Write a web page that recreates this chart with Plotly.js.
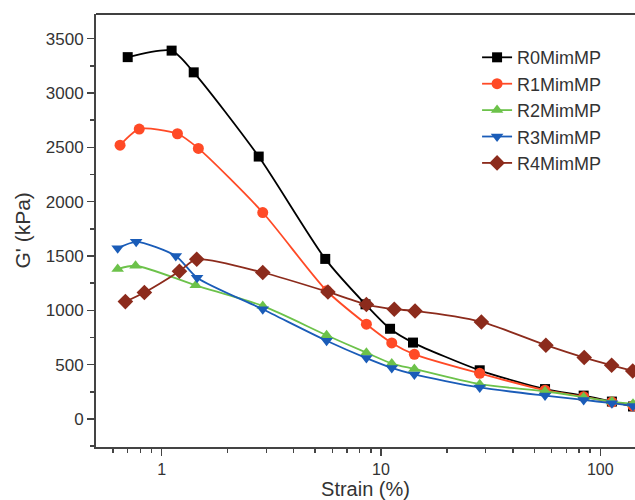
<!DOCTYPE html>
<html>
<head>
<meta charset="utf-8">
<script src="https://cdn.plot.ly/plotly-3.0.1.min.js"></script>
<style>html,body{margin:0;padding:0;background:#fff;}#chart{width:635px;height:500px;}</style>
</head>
<body>
<div id="chart"></div>
<script>
// Data
const seriesNames = ["R0MimMP", "R1MimMP", "R2MimMP", "R3MimMP", "R4MimMP"];

const strainR0 = [0.70, 1.11, 1.40, 2.77, 5.57, 8.5, 11.0, 14.0, 28.2, 56, 84, 113, 141];
const gR0      = [3330, 3390, 3190, 2415, 1473, 1055, 830, 703, 448, 275, 215, 160, 115];

const strainR1 = [0.646, 0.79, 1.18, 1.47, 2.89, 5.65, 8.58, 11.2, 14.2, 28.2, 56, 84, 113, 141];
const gR1      = [2520, 2668, 2625, 2490, 1900, 1180, 872, 700, 595, 420, 265, 205, 155, 120];

const strainR2 = [0.63, 0.76, 1.43, 2.89, 5.65, 8.58, 11.2, 14.2, 28.2, 56, 84, 113, 141];
const gR2      = [1380, 1410, 1230, 1040, 770, 610, 510, 460, 320, 255, 200, 160, 140];

const strainR3 = [0.63, 0.765, 1.16, 1.45, 2.89, 5.65, 8.58, 11.2, 14.2, 28.2, 56, 84, 113, 141];
const gR3      = [1570, 1630, 1500, 1300, 1010, 720, 560, 470, 410, 290, 215, 175, 145, 120];

const strainR4 = [0.683, 0.834, 1.205, 1.445, 2.89, 5.73, 8.58, 11.5, 14.3, 28.7, 56.5, 84.5, 112.7, 140.6];
const gR4      = [1080, 1164, 1360, 1470, 1348, 1169, 1053, 1010, 994, 893, 679, 565, 494, 442];

const yTicks = [0, 500, 1000, 1500, 2000, 2500, 3000, 3500];
const xTicks = [1, 10, 100];
const xTickText = ["1", "10", "100"];

const colors  = ["#000000", "#ff4a26", "#6cc24a", "#1a5cb8", "#8c2b1c"];
const symbols = ["square", "circle", "triangle-up", "triangle-down", "diamond"];
const msizes  = [10, 11, 11, 11, 12];

const xs = [strainR0, strainR1, strainR2, strainR3, strainR4];
const ys = [gR0, gR1, gR2, gR3, gR4];

const traces = seriesNames.map((name, i) => ({
  x: xs[i], y: ys[i], name: name, type: "scatter", mode: "lines+markers",
  line: {color: colors[i], width: 1.8, shape: "spline", smoothing: 0.7},
  marker: {color: colors[i], symbol: symbols[i], size: msizes[i]}
}));

const layout = {
  width: 635, height: 500,
  margin: {l: 96, r: 0, t: 14, b: 53, pad: 0},
  paper_bgcolor: "#ffffff", plot_bgcolor: "#ffffff",
  font: {family: "Liberation Sans, Arial, sans-serif", color: "#333333"},
  showlegend: true,
  legend: {
    x: 0.707, y: 0.942, xanchor: "left", yanchor: "top",
    font: {size: 18, color: "#333333"},
    bgcolor: "rgba(0,0,0,0)"
  },
  xaxis: {
    type: "log",
    range: [-0.2995, 2.1584],
    showgrid: false, zeroline: false,
    showline: true, linecolor: "#444444", linewidth: 2, mirror: false,
    ticks: "outside", ticklen: 7, tickwidth: 1.5, tickcolor: "#444444",
    tickvals: xTicks, ticktext: xTickText,
    tickfont: {size: 16, color: "#333333"},
    minor: {ticks: "outside", ticklen: 4, tickcolor: "#444444", tickwidth: 1.5,
            tickvals: [0.6,0.7,0.8,0.9,2,3,4,5,6,7,8,9,20,30,40,50,60,70,80,90]},
    title: {text: "Strain (%)", font: {size: 20, color: "#333333"}, standoff: 4}
  },
  yaxis: {
    range: [-258, 3727],
    showgrid: false, zeroline: false,
    showline: true, linecolor: "#444444", linewidth: 2,
    ticks: "outside", ticklen: 7, tickwidth: 1.5, tickcolor: "#444444",
    tickvals: yTicks,
    tickfont: {size: 17, color: "#333333"},
    minor: {ticks: "outside", ticklen: 4, tickcolor: "#444444", tickwidth: 1.5, dtick: 250}
  },
  annotations: [{
    text: "G' (kPa)", xref: "paper", yref: "paper",
    x: (22 - 96) / 539, y: 0.5, xanchor: "center", yanchor: "middle",
    textangle: -90, showarrow: false,
    font: {size: 21, color: "#333333"}
  }],
  shapes: [{type: "line", xref: "paper", yref: "paper", x0: 0, x1: 1, y0: 1, y1: 1,
            line: {color: "#000000", width: 1.5}}]
};

Plotly.newPlot("chart", traces, layout, {displayModeBar: false, staticPlot: true});
</script>
</body>
</html>
